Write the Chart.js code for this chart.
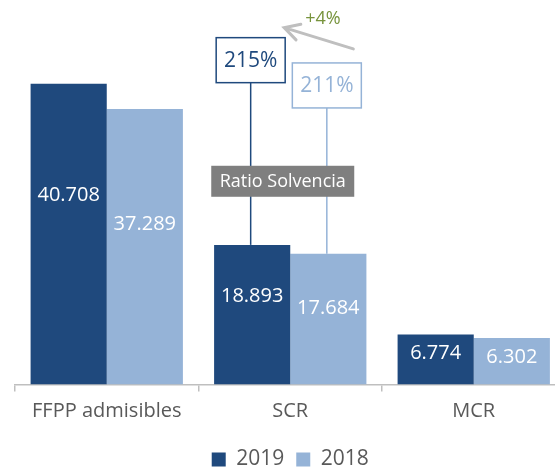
<html>
<head>
<script src='https://cdn.jsdelivr.net/npm/chart.js'></script>
<style>
    html, body { margin: 0; padding: 0; overflow: hidden; background: #fff; }
    #wrap { width: 575px; height: 480px; }
</style>
</head>
<body>
<div id='wrap'><canvas id='chart'></canvas></div>
<script>
// data
var categories = ['FFPP admisibles', 'SCR', 'MCR'];
var years = ['2019', '2018'];
var values2019 = [40708, 18893, 6774];
var values2018 = [37289, 17684, 6302];
var ratios = [215, 211];
var ratioTitle = 'Ratio Solvencia';
var ratioChange = '+4%';
var colors = ['#1F497D', '#95B3D7'];

var FONT = '"Open Sans", "Noto Sans", sans-serif';

function fmt(v) {
    return String(v).replace(/\B(?=(\d{3})+(?!\d))/g, '.');
}

// white value labels inside the bars
var barLabels = {
    id: 'barLabels',
    afterDatasetsDraw: function(chart) {
        var ctx = chart.ctx, y = chart.scales.y;
        var pos = [0.63, 0.58];
        ctx.save();
        ctx.font = '20px ' + FONT;
        ctx.fillStyle = '#fff';
        ctx.textAlign = 'center';
        ctx.textBaseline = 'middle';
        chart.data.datasets.forEach(function(ds, di) {
            chart.getDatasetMeta(di).data.forEach(function(bar, i) {
                ctx.fillText(fmt(ds.data[i]), bar.x, y.getPixelForValue(ds.data[i] * pos[di]));
            });
        });
        ctx.restore();
    }
};

// solvency ratio boxes over the SCR bars
var ratioNotes = {
    id: 'ratioNotes',
    afterDraw: function(chart) {
        var ctx = chart.ctx, y = chart.scales.y;
        var boxes = [];
        ctx.save();
        chart.data.datasets.forEach(function(ds, di) {
            var bar = chart.getDatasetMeta(di).data[1];
            var w = 69, h = 45;
            var bottom = y.getPixelForValue(ds.data[0]) - 1;
            var b = { x: bar.x - 1.5 - w / 2, y: bottom - h, w: w, h: h, cx: bar.x - 1.5, barTop: bar.y };
            boxes.push(b);
            ctx.strokeStyle = colors[di];
            ctx.lineWidth = 1.5;
            ctx.beginPath();
            ctx.moveTo(b.cx, bottom);
            ctx.lineTo(b.cx, b.barTop);
            ctx.stroke();
            ctx.strokeRect(b.x, b.y, b.w, b.h);
            ctx.fillStyle = colors[di];
            ctx.font = '21px ' + FONT;
            ctx.textAlign = 'center';
            ctx.textBaseline = 'middle';
            ctx.fillText(ratios[di] + '%', b.x + w / 2, b.y + h / 2 + 1);
        });

        // grey title box
        var cx = (boxes[0].cx + boxes[1].cx) / 2 - 6;
        var cy = y.getPixelForValue(27500);
        ctx.fillStyle = '#7F7F7F';
        ctx.fillRect(cx - 71.5, cy - 15.5, 143, 31);
        ctx.fillStyle = '#fff';
        ctx.font = '18px ' + FONT;
        ctx.fillText(ratioTitle, cx, cy + 1);

        // arrow between the two ratios
        var tail = { x: boxes[1].x + boxes[1].w - 8, y: boxes[1].y - 14 };
        var tip = { x: boxes[0].x + boxes[0].w - 1, y: boxes[0].y - 10 };
        var ang = Math.atan2(tail.y - tip.y, tail.x - tip.x);
        ctx.strokeStyle = '#BFBFBF';
        ctx.lineWidth = 3;
        ctx.lineCap = 'round';
        ctx.beginPath();
        ctx.moveTo(tail.x, tail.y);
        ctx.lineTo(tip.x, tip.y);
        ctx.moveTo(tip.x + 17 * Math.cos(ang - 0.5), tip.y + 17 * Math.sin(ang - 0.5));
        ctx.lineTo(tip.x, tip.y);
        ctx.lineTo(tip.x + 17 * Math.cos(ang + 0.5), tip.y + 17 * Math.sin(ang + 0.5));
        ctx.stroke();
        ctx.fillStyle = '#77933C';
        ctx.font = '18px ' + FONT;
        ctx.textAlign = 'left';
        ctx.fillText(ratioChange, tip.x + 21, tip.y - 9);
        ctx.restore();
    }
};

new Chart('chart', {
    type: 'bar',
    data: {
        labels: categories,
        datasets: [
            { label: years[0], data: values2019, backgroundColor: colors[0] },
            { label: years[1], data: values2018, backgroundColor: colors[1] }
        ]
    },
    options: {
        responsive: true,
        maintainAspectRatio: false,
        animation: false,
        layout: { padding: { left: 15, right: 9.5, top: 15, bottom: 0 } },
        datasets: { bar: { barPercentage: 1, categoryPercentage: 0.83, borderWidth: 0 } },
        scales: {
            x: {
                grid: { offset: true, drawOnChartArea: false, tickLength: 7, color: '#BFBFBF', lineWidth: 1.5 },
                border: { color: '#BFBFBF', width: 1.5 },
                ticks: { color: '#595959', font: { family: FONT, size: 20 }, padding: 8 },
                afterFit: function(s) { s.height = 52.5; }
            },
            y: { display: false, min: 0, max: 50000 }
        },
        plugins: {
            legend: {
                position: 'bottom',
                labels: { boxWidth: 14, boxHeight: 14, padding: 12, color: '#595959', font: { family: FONT, size: 21 } }
            },
            tooltip: { enabled: false }
        }
    },
    plugins: [barLabels, ratioNotes]
});
</script>
</body>
</html>
